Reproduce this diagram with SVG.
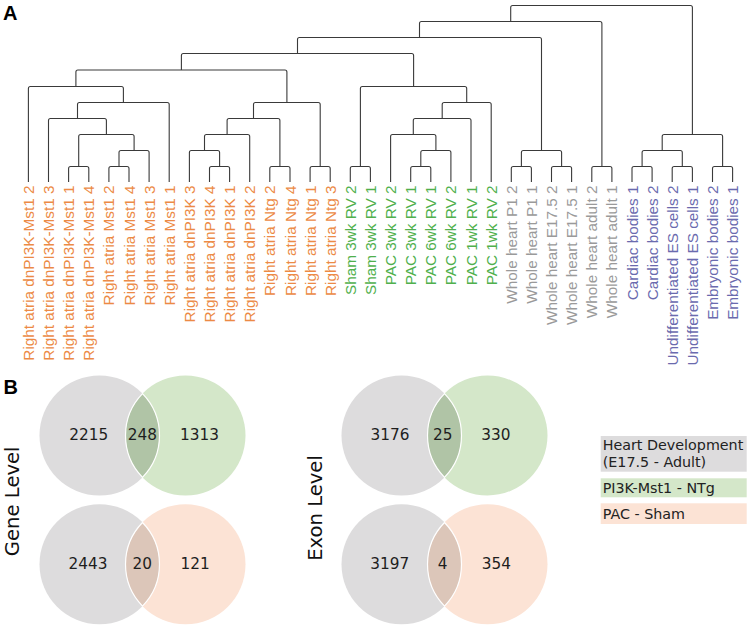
<svg xmlns="http://www.w3.org/2000/svg" width="750" height="629" viewBox="0 0 750 629">
<style>
.br{fill:none;stroke:#3a3a3a;stroke-width:1.1}
.lf{font-family:"Liberation Sans",Arial,sans-serif;font-size:15.3px;text-anchor:end}
.o{fill:#ec8a45}.g{fill:#4fb04c}.y{fill:#9a9a9a}.b{fill:#6a6aae}
.pl{font-family:"Liberation Sans",Arial,sans-serif;font-weight:bold;font-size:20px;fill:#000}
.num{font-family:"DejaVu Sans",sans-serif;font-size:15.3px;fill:#1e1e1e;text-anchor:middle}
.lvl{font-family:"DejaVu Sans",sans-serif;font-size:19.6px;fill:#111;text-anchor:middle}
.lg{font-family:"DejaVu Sans",sans-serif;font-size:14.3px;fill:#222}
.cg{fill:#dddcdd}.cgr{fill:#d4e7c9}.cp{fill:#fce3d5}
.lgr{fill:#b0c4a6;stroke:#fff;stroke-width:1.2}.lp{fill:#dcc6b9;stroke:#fff;stroke-width:1.2}
</style>
<text class="pl" x="3" y="20">A</text>
<text class="pl" x="3.5" y="393.5">B</text>
<g id="connectors">
<path class="br" d="M68.6 182V168.5Q68.6 166.5 70.6 166.5H86.8Q88.8 166.5 88.8 168.5V182"/>
<path class="br" d="M108.9 182V168.5Q108.9 166.5 110.9 166.5H127Q129 166.5 129 168.5V182"/>
<path class="br" d="M119 166.5V152.5Q119 150.5 121 150.5H147.1Q149.1 150.5 149.1 152.5V182"/>
<path class="br" d="M78.7 166.5V136.5Q78.7 134.5 80.7 134.5H132.1Q134.1 134.5 134.1 136.5V150.5"/>
<path class="br" d="M48.5 182V120.5Q48.5 118.5 50.5 118.5H104.4Q106.4 118.5 106.4 120.5V134.5"/>
<path class="br" d="M77.5 118.5V104.5Q77.5 102.5 79.5 102.5H167.2Q169.2 102.5 169.2 104.5V182"/>
<path class="br" d="M28.4 182V88.5Q28.4 86.5 30.4 86.5H121.4Q123.4 86.5 123.4 88.5V102.5"/>
<path class="br" d="M209.5 182V168.5Q209.5 166.5 211.5 166.5H227.6Q229.6 166.5 229.6 168.5V182"/>
<path class="br" d="M189.4 182V152.5Q189.4 150.5 191.4 150.5H217.6Q219.6 150.5 219.6 152.5V166.5"/>
<path class="br" d="M204.5 150.5V136.5Q204.5 134.5 206.5 134.5H247.7Q249.7 134.5 249.7 136.5V182"/>
<path class="br" d="M269.8 182V168.5Q269.8 166.5 271.8 166.5H288Q290 166.5 290 168.5V182"/>
<path class="br" d="M227.1 134.5V120.5Q227.1 118.5 229.1 118.5H277.9Q279.9 118.5 279.9 120.5V166.5"/>
<path class="br" d="M310.1 182V168.5Q310.1 166.5 312.1 166.5H328.2Q330.2 166.5 330.2 168.5V182"/>
<path class="br" d="M253.5 118.5V104.5Q253.5 102.5 255.5 102.5H318.2Q320.2 102.5 320.2 104.5V166.5"/>
<path class="br" d="M75.9 86.5V72Q75.9 70 77.9 70H284.9Q286.9 70 286.9 72V102.5"/>
<path class="br" d="M350.3 182V168.5Q350.3 166.5 352.3 166.5H368.4Q370.4 166.5 370.4 168.5V182"/>
<path class="br" d="M410.7 182V168.5Q410.7 166.5 412.7 166.5H428.8Q430.8 166.5 430.8 168.5V182"/>
<path class="br" d="M420.8 166.5V152.5Q420.8 150.5 422.8 150.5H448.9Q450.9 150.5 450.9 152.5V182"/>
<path class="br" d="M390.6 182V136.5Q390.6 134.5 392.6 134.5H433.9Q435.9 134.5 435.9 136.5V150.5"/>
<path class="br" d="M413.3 134.5V120.5Q413.3 118.5 415.3 118.5H469Q471 118.5 471 120.5V182"/>
<path class="br" d="M442.2 118.5V104.5Q442.2 102.5 444.2 102.5H489.2Q491.2 102.5 491.2 104.5V182"/>
<path class="br" d="M360.4 166.5V88.5Q360.4 86.5 362.4 86.5H464.7Q466.7 86.5 466.7 88.5V102.5"/>
<path class="br" d="M181.4 70V55.5Q181.4 53.5 183.4 53.5H411.6Q413.6 53.5 413.6 55.5V86.5"/>
<path class="br" d="M511.3 182V168.5Q511.3 166.5 513.3 166.5H529.4Q531.4 166.5 531.4 168.5V182"/>
<path class="br" d="M551.5 182V168.5Q551.5 166.5 553.5 166.5H569.6Q571.6 166.5 571.6 168.5V182"/>
<path class="br" d="M521.4 166.5V152.5Q521.4 150.5 523.4 150.5H559.6Q561.6 150.5 561.6 152.5V166.5"/>
<path class="br" d="M297.5 53.5V39.5Q297.5 37.5 299.5 37.5H539.5Q541.5 37.5 541.5 39.5V150.5"/>
<path class="br" d="M591.8 182V168.5Q591.8 166.5 593.8 166.5H609.9Q611.9 166.5 611.9 168.5V182"/>
<path class="br" d="M419.5 37.5V23.5Q419.5 21.5 421.5 21.5H599.9Q601.9 21.5 601.9 23.5V166.5"/>
<path class="br" d="M632 182V168.5Q632 166.5 634 166.5H650.1Q652.1 166.5 652.1 168.5V182"/>
<path class="br" d="M672.2 182V168.5Q672.2 166.5 674.2 166.5H690.4Q692.4 166.5 692.4 168.5V182"/>
<path class="br" d="M642.1 166.5V152.5Q642.1 150.5 644.1 150.5H680.3Q682.3 150.5 682.3 152.5V166.5"/>
<path class="br" d="M712.5 182V168.5Q712.5 166.5 714.5 166.5H730.6Q732.6 166.5 732.6 168.5V182"/>
<path class="br" d="M662.2 150.5V136.5Q662.2 134.5 664.2 134.5H720.6Q722.6 134.5 722.6 136.5V166.5"/>
<path class="br" d="M510.7 21.5V7.5Q510.7 5.5 512.7 5.5H690.4Q692.4 5.5 692.4 7.5V134.5"/>
</g>
<g id="leaves">
<g id="leaf0"><text class="lf o" transform="translate(33.9,185.5) rotate(-90)">Right atria dnPI3K-Mst1 2</text></g>
<g id="leaf1"><text class="lf o" transform="translate(54,185.5) rotate(-90)">Right atria dnPI3K-Mst1 3</text></g>
<g id="leaf2"><text class="lf o" transform="translate(74.1,185.5) rotate(-90)">Right atria dnPI3K-Mst1 1</text></g>
<g id="leaf3"><text class="lf o" transform="translate(94.3,185.5) rotate(-90)">Right atria dnPI3K-Mst1 4</text></g>
<g id="leaf4"><text class="lf o" transform="translate(114.4,185.5) rotate(-90)">Right atria Mst1 2</text></g>
<g id="leaf5"><text class="lf o" transform="translate(134.5,185.5) rotate(-90)">Right atria Mst1 4</text></g>
<g id="leaf6"><text class="lf o" transform="translate(154.6,185.5) rotate(-90)">Right atria Mst1 3</text></g>
<g id="leaf7"><text class="lf o" transform="translate(174.7,185.5) rotate(-90)">Right atria Mst1 1</text></g>
<g id="leaf8"><text class="lf o" transform="translate(194.9,185.5) rotate(-90)">Right atria dnPI3K 3</text></g>
<g id="leaf9"><text class="lf o" transform="translate(215,185.5) rotate(-90)">Right atria dnPI3K 4</text></g>
<g id="leaf10"><text class="lf o" transform="translate(235.1,185.5) rotate(-90)">Right atria dnPI3K 1</text></g>
<g id="leaf11"><text class="lf o" transform="translate(255.2,185.5) rotate(-90)">Right atria dnPI3K 2</text></g>
<g id="leaf12"><text class="lf o" transform="translate(275.3,185.5) rotate(-90)">Right atria Ntg 2</text></g>
<g id="leaf13"><text class="lf o" transform="translate(295.5,185.5) rotate(-90)">Right atria Ntg 4</text></g>
<g id="leaf14"><text class="lf o" transform="translate(315.6,185.5) rotate(-90)">Right atria Ntg 1</text></g>
<g id="leaf15"><text class="lf o" transform="translate(335.7,185.5) rotate(-90)">Right atria Ntg 3</text></g>
<g id="leaf16"><text class="lf g" transform="translate(355.8,185.5) rotate(-90)">Sham 3wk RV 2</text></g>
<g id="leaf17"><text class="lf g" transform="translate(375.9,185.5) rotate(-90)">Sham 3wk RV 1</text></g>
<g id="leaf18"><text class="lf g" transform="translate(396.1,185.5) rotate(-90)">PAC 3wk RV 2</text></g>
<g id="leaf19"><text class="lf g" transform="translate(416.2,185.5) rotate(-90)">PAC 3wk RV 1</text></g>
<g id="leaf20"><text class="lf g" transform="translate(436.3,185.5) rotate(-90)">PAC 6wk RV 1</text></g>
<g id="leaf21"><text class="lf g" transform="translate(456.4,185.5) rotate(-90)">PAC 6wk RV 2</text></g>
<g id="leaf22"><text class="lf g" transform="translate(476.5,185.5) rotate(-90)">PAC 1wk RV 1</text></g>
<g id="leaf23"><text class="lf g" transform="translate(496.7,185.5) rotate(-90)">PAC 1wk RV 2</text></g>
<g id="leaf24"><text class="lf y" transform="translate(516.8,185.5) rotate(-90)">Whole heart P1 2</text></g>
<g id="leaf25"><text class="lf y" transform="translate(536.9,185.5) rotate(-90)">Whole heart P1 1</text></g>
<g id="leaf26"><text class="lf y" transform="translate(557,185.5) rotate(-90)">Whole heart E17.5 2</text></g>
<g id="leaf27"><text class="lf y" transform="translate(577.1,185.5) rotate(-90)">Whole heart E17.5 1</text></g>
<g id="leaf28"><text class="lf y" transform="translate(597.3,185.5) rotate(-90)">Whole heart adult 2</text></g>
<g id="leaf29"><text class="lf y" transform="translate(617.4,185.5) rotate(-90)">Whole heart adult 1</text></g>
<g id="leaf30"><text class="lf b" transform="translate(637.5,185.5) rotate(-90)">Cardiac bodies 1</text></g>
<g id="leaf31"><text class="lf b" transform="translate(657.6,185.5) rotate(-90)">Cardiac bodies 2</text></g>
<g id="leaf32"><text class="lf b" transform="translate(677.7,185.5) rotate(-90)">Undifferentiated ES cells 2</text></g>
<g id="leaf33"><text class="lf b" transform="translate(697.9,185.5) rotate(-90)">Undifferentiated ES cells 1</text></g>
<g id="leaf34"><text class="lf b" transform="translate(718,185.5) rotate(-90)">Embryonic bodies 2</text></g>
<g id="leaf35"><text class="lf b" transform="translate(738.1,185.5) rotate(-90)">Embryonic bodies 1</text></g>
</g>
<text class="lvl" transform="translate(18.5,501.3) rotate(-90)">Gene Level</text>
<text class="lvl" transform="translate(321.7,508) rotate(-90)">Exon Level</text>
<g id="venn-gene-pi3k">
<circle class="cg" cx="99.5" cy="435.5" r="60"/>
<circle class="cgr" cx="185.5" cy="435.5" r="60"/>
<path class="lgr" d="M142.5 393.66A60 60 0 0 0 142.5 477.34A60 60 0 0 0 142.5 393.66Z"/>
<text class="num" x="88.8" y="440.3">2215</text>
<text class="num" x="142.3" y="440.3">248</text>
<text class="num" x="199.5" y="440.3">1313</text>
</g>
<g id="venn-gene-pac">
<circle class="cg" cx="99.5" cy="564.3" r="60"/>
<circle class="cp" cx="185.5" cy="564.3" r="60"/>
<path class="lp" d="M142.5 522.46A60 60 0 0 0 142.5 606.14A60 60 0 0 0 142.5 522.46Z"/>
<text class="num" x="88" y="568.5">2443</text>
<text class="num" x="142.3" y="568.5">20</text>
<text class="num" x="195.2" y="568.5">121</text>
</g>
<g id="venn-exon-pi3k">
<circle class="cg" cx="401.5" cy="435.5" r="60"/>
<circle class="cgr" cx="487.5" cy="435.5" r="60"/>
<path class="lgr" d="M444.5 393.66A60 60 0 0 0 444.5 477.34A60 60 0 0 0 444.5 393.66Z"/>
<text class="num" x="390" y="440.3">3176</text>
<text class="num" x="442.8" y="440.3">25</text>
<text class="num" x="495.8" y="440.3">330</text>
</g>
<g id="venn-exon-pac">
<circle class="cg" cx="401.5" cy="564.3" r="60"/>
<circle class="cp" cx="487.5" cy="564.3" r="60"/>
<path class="lp" d="M444.5 522.46A60 60 0 0 0 444.5 606.14A60 60 0 0 0 444.5 522.46Z"/>
<text class="num" x="389.7" y="568.5">3197</text>
<text class="num" x="442.5" y="568.5">4</text>
<text class="num" x="496.3" y="568.5">354</text>
</g>
<g id="legend-heart">
<rect class="cg" x="600.7" y="436" width="146" height="35.7"/>
<text class="lg" x="602.7" y="450">Heart Development</text>
<text class="lg" x="602.7" y="466.5">(E17.5 - Adult)</text>
</g>
<g id="legend-pi3k">
<rect class="cgr" x="600.7" y="478.3" width="146" height="19"/>
<text class="lg" x="602.7" y="493.3">PI3K-Mst1 - NTg</text>
</g>
<g id="legend-pac">
<rect class="cp" x="600.7" y="503.3" width="146" height="20.7"/>
<text class="lg" x="602.7" y="519">PAC - Sham</text>
</g>
</svg>
